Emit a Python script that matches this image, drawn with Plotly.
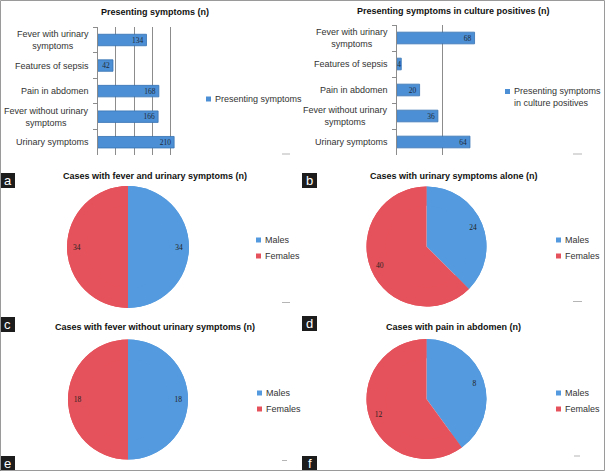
import plotly.graph_objects as go

W, H = 605, 471

# ---------------- data ----------------
symptoms = ["Fever with urinary symptoms", "Features of sepsis", "Pain in abdomen",
            "Fever without urinary symptoms", "Urinary symptoms"]
symptom_labels = ["Fever with urinary<br>symptoms", "Features of sepsis", "Pain in abdomen",
                  "Fever without urinary<br>symptoms", "Urinary symptoms"]
presenting = [134, 42, 168, 166, 210]
culture_positive = [68, 4, 20, 36, 64]

sexes = ["Males", "Females"]
fever_urinary = [34, 34]
urinary_alone = [24, 40]
fever_no_urinary = [18, 18]
pain_abdomen = [8, 12]

bar_series_names = ["Presenting symptoms", "Presenting symptoms<br>in culture positives"]
titles = ["Presenting symptoms (n)", "Presenting symptoms in culture positives (n)",
          "Cases with fever and urinary symptoms (n)", "Cases with urinary symptoms alone (n)",
          "Cases with fever without urinary symptoms (n)", "Cases with pain in abdomen (n)"]
panel_letters = ["a", "b", "c", "d", "e", "f"]

# ---------------- style ----------------
SANS = "Liberation Sans, Arial, sans-serif"
SERIF = "Liberation Serif, Times New Roman, serif"
BLUE = "#4d8fd4"
BLUE_EDGE = "#3672b2"
MALE = "#549ade"
FEMALE = "#e6525b"
GRID = "#8c8c8c"
TXT = "#333333"


def px(x):
    return x / W


def py(y):
    return 1 - y / H


fig = go.Figure()

# bar charts
for vals, name, xa, ya in [(presenting, bar_series_names[0], "x", "y"),
                           (culture_positive, bar_series_names[1], "x2", "y2")]:
    fig.add_trace(go.Bar(
        x=vals, y=symptoms, orientation="h", name=name.replace("<br>", " "),
        text=vals, textposition="inside", insidetextanchor="end", constraintext="none",
        textangle=0, textfont=dict(family=SERIF, size=7.5, color="#1d2b3a"),
        marker=dict(color=BLUE, line=dict(color=BLUE_EDGE, width=0.8)),
        xaxis=xa, yaxis=ya, showlegend=False, hoverinfo="x+y"))

# pies: a full base pie plus a ring on top carrying the value labels
pie_specs = [
    (fever_urinary, (67, 189), (186, 308)),
    (urinary_alone, (366, 487), (186.5, 306.5)),
    (fever_no_urinary, (68, 188), (339.5, 459.5)),
    (pain_abdomen, (366.5, 486.5), (339, 459)),
]
for vals, (x0, x1), (y0, y1) in pie_specs:
    dom = dict(x=[px(x0), px(x1)], y=[py(y1), py(y0)])
    fig.add_trace(go.Pie(
        labels=sexes, values=vals, sort=False, direction="clockwise", rotation=0,
        domain=dom, marker=dict(colors=[MALE, FEMALE], line=dict(width=0)),
        textinfo="none", showlegend=False, hoverinfo="skip"))
    fig.add_trace(go.Pie(
        labels=sexes, values=vals, sort=False, direction="clockwise", rotation=0,
        domain=dom, hole=0.68, marker=dict(colors=[MALE, FEMALE], line=dict(width=0)),
        textinfo="value", textposition="inside", insidetextorientation="horizontal",
        textfont=dict(family=SERIF, size=7.5, color="#222222"),
        showlegend=False, hoverinfo="label+value"))

axis_common = dict(showticklabels=False, zeroline=False, fixedrange=True)
fig.update_layout(
    width=W, height=H, margin=dict(l=0, r=0, t=0, b=0),
    paper_bgcolor="white", plot_bgcolor="white",
    font=dict(family=SANS, size=9, color=TXT),
    bargap=0.55, showlegend=False,
    xaxis=dict(domain=[px(97.7), px(188.7)], range=[0, 250], dtick=50, tick0=0,
               showgrid=True, gridcolor=GRID, gridwidth=1, anchor="y", **axis_common),
    yaxis=dict(domain=[py(155), py(27)], autorange="reversed", anchor="x",
               showline=True, linecolor=GRID, linewidth=1, ticks="outside", tickson="boundaries",
               ticklen=4, tickcolor=GRID, showgrid=False, **axis_common),
    xaxis2=dict(domain=[px(396.7), px(488.3)], range=[0, 80], dtick=40, tick0=0,
                showgrid=True, gridcolor=GRID, gridwidth=1, anchor="y2", **axis_common),
    yaxis2=dict(domain=[py(155), py(25)], autorange="reversed", anchor="x2",
                showline=True, linecolor=GRID, linewidth=1, ticks="outside", tickson="boundaries",
                ticklen=4, tickcolor=GRID, showgrid=False, **axis_common),
)

# category labels (centred multi-line like the original)
for lab, cat in zip(symptom_labels, symptoms):
    fig.add_annotation(x=px(91), xref="paper", y=cat, yref="y", text=lab, showarrow=False,
                       xanchor="right", align="center", font=dict(family=SANS, size=9, color=TXT))
    fig.add_annotation(x=px(390), xref="paper", y=cat, yref="y2", text=lab, showarrow=False,
                       xanchor="right", align="center", font=dict(family=SANS, size=9, color=TXT))

# legends (drawn as small squares + text, like the Excel originals)
def add_legend_item(text, tx, ty, color, sq_y=None):
    sy = ty if sq_y is None else sq_y
    fig.add_shape(type="rect", xref="paper", yref="paper", x0=px(tx - 7), x1=px(tx - 2),
                  y0=py(sy + 2.5), y1=py(sy - 2.5), fillcolor=color, line=dict(width=0))
    fig.add_annotation(x=px(tx), y=py(ty), xref="paper", yref="paper", text=text, showarrow=False,
                       xanchor="left", yanchor="middle", align="left",
                       font=dict(family=SANS, size=9, color=TXT))


add_legend_item(bar_series_names[0], 213, 99, BLUE)
add_legend_item(bar_series_names[1], 512, 97, BLUE, sq_y=91.5)
for tx, ty in [(263, 240), (563, 240), (264, 393), (563, 393)]:
    add_legend_item(sexes[0], tx, ty, MALE)
    add_legend_item(sexes[1], tx, ty + 16, FEMALE)

# titles
title_pos = [(155, 12), (453, 11), (155, 176), (454, 176), (155, 327), (453, 327)]
for t, (tx, ty) in zip(titles, title_pos):
    fig.add_annotation(x=px(tx), y=py(ty), xref="paper", yref="paper", text="<b>%s</b>" % t,
                       showarrow=False, xanchor="center", yanchor="middle",
                       font=dict(family=SANS, size=9, color="#111111"))

# panel letters
letter_boxes = [(0, 173), (302, 173), (0, 317), (302, 316), (0, 456), (302, 456)]
for letter, (bx, by) in zip(panel_letters, letter_boxes):
    fig.add_shape(type="rect", xref="paper", yref="paper", x0=px(bx), x1=px(bx + 15),
                  y0=py(by + 15), y1=py(by), fillcolor="#1c1c1c", line=dict(width=0))
    fig.add_annotation(x=px(bx + 7.5), y=py(by + 7.5), xref="paper", yref="paper", text=letter,
                       showarrow=False, xanchor="center", yanchor="middle",
                       font=dict(family=SANS, size=13, color="white"))

# small dash artefacts
dashes = [(282, 290, 154), (573, 582, 154), (282, 290, 302.5), (573, 582, 301.5),
          (282, 287, 460.5), (574, 580, 456)]
for x0, x1, y in dashes:
    fig.add_shape(type="line", xref="paper", yref="paper", x0=px(x0), x1=px(x1), y0=py(y), y1=py(y),
                  line=dict(color="#b5b5b5", width=1))

# outer border
fig.add_shape(type="rect", xref="paper", yref="paper", x0=px(0.5), x1=px(604.5), y0=py(470.5), y1=py(0.5),
              line=dict(color="#9a9a9a", width=1), fillcolor="rgba(0,0,0,0)", layer="above")

fig.write_html("out.html", config={"displayModeBar": False},
               post_script="document.body.style.margin='0';")
